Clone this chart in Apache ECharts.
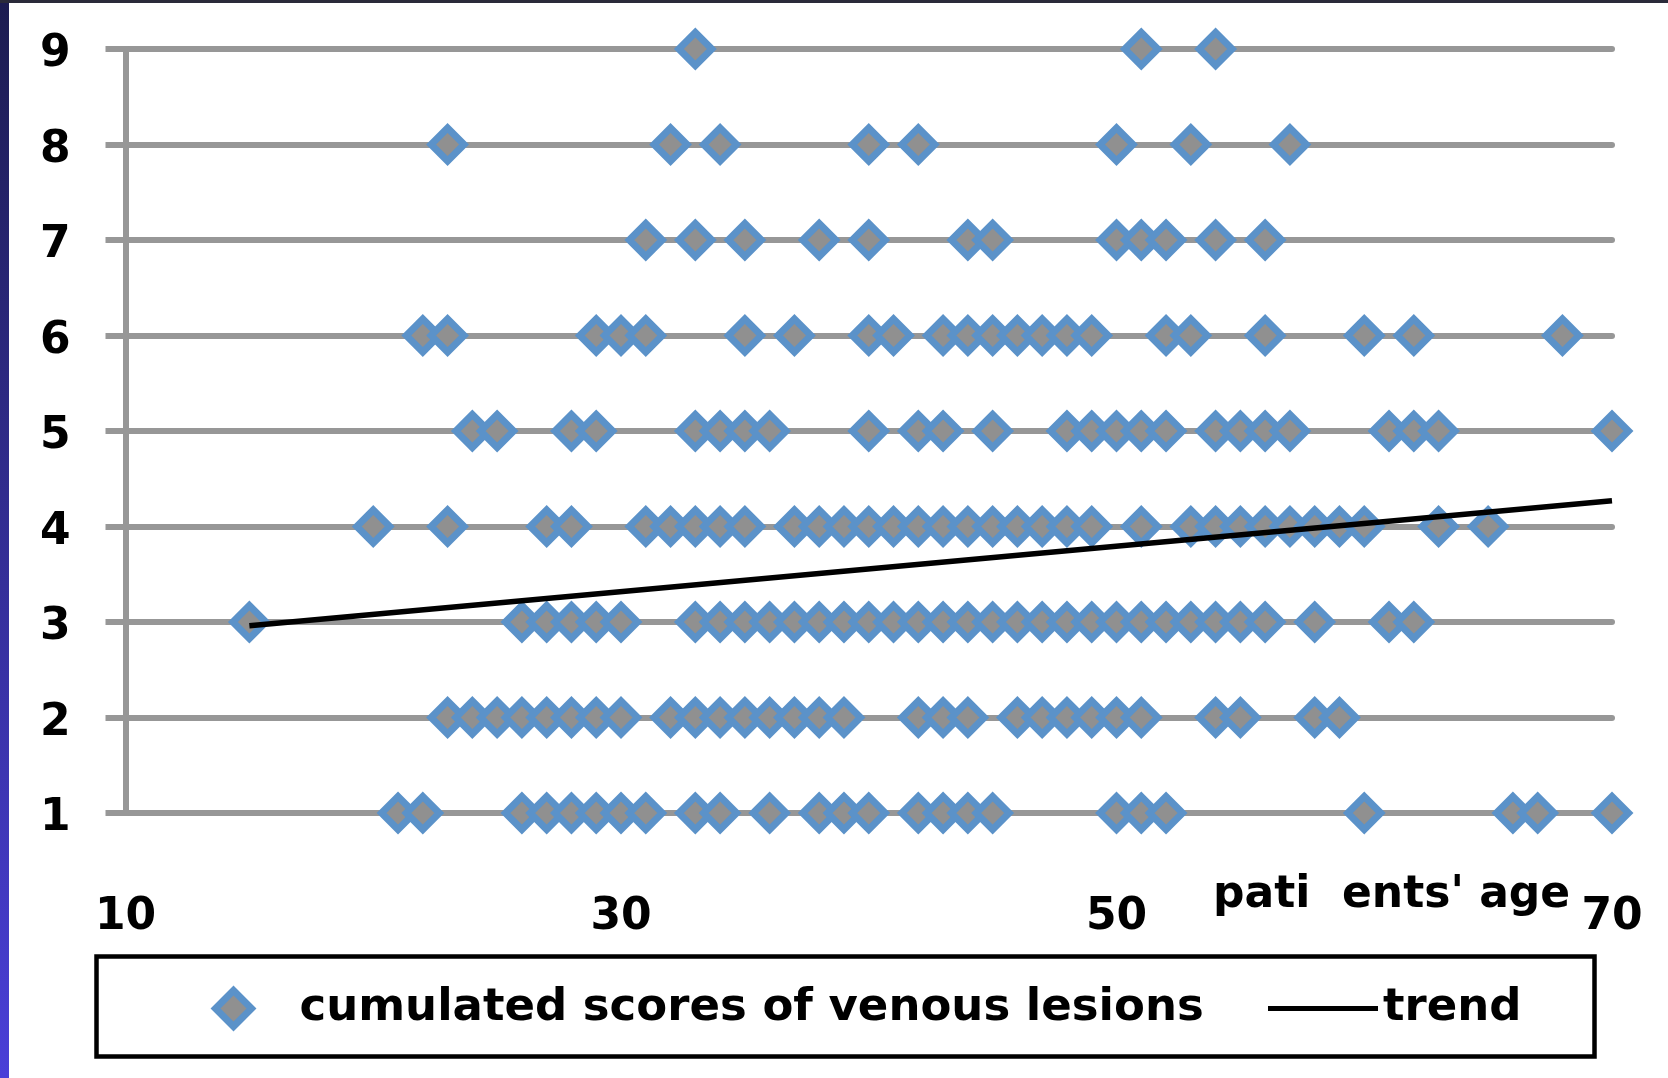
<!DOCTYPE html>
<html>
<head>
<meta charset="utf-8">
<script src="https://cdn.jsdelivr.net/npm/echarts@6/dist/echarts.min.js"></script>
<style>
html,body{margin:0;padding:0;background:#fff;}
#chart{width:1668px;height:1078px;}
</style>
</head>
<body>
<div id="chart"></div>
<script>
// Patients' ages for each cumulated score (1..9)
const ages1 = [21,22,26,27,28,29,30,31,33,34,36,38,39,40,42,43,44,45,50,51,52,60,66,67,70];
const ages2 = [23,24,25,26,27,28,29,30,32,33,34,35,36,37,38,39,42,43,44,46,47,48,49,50,51,54,55,58,59];
const ages3 = [15,26,27,28,29,30,33,34,35,36,37,38,39,40,41,42,43,44,45,46,47,48,49,50,51,52,53,54,55,56,58,61,62];
const ages4 = [20,23,27,28,31,32,33,34,35,37,38,39,40,41,42,43,44,45,46,47,48,49,51,53,54,55,56,57,58,59,60,63,65];
const ages5 = [24,25,28,29,33,34,35,36,40,42,43,45,48,49,50,51,52,54,55,56,57,61,62,63,70];
const ages6 = [22,23,29,30,31,35,37,40,41,43,44,45,46,47,48,49,52,53,56,60,62,68];
const ages7 = [31,33,35,38,40,44,45,50,51,52,54,56];
const ages8 = [23,32,34,40,42,50,53,57];
const ages9 = [33,51,54];
const scoreRows = [ages1, ages2, ages3, ages4, ages5, ages6, ages7, ages8, ages9];

// Trend line end points (age, score)
const trendAges = [15, 70];
const trendScores = [2.96, 4.27];

const xTicks = [10, 30, 50, 70];
const seriesNames = ['cumulated scores of venous lesions', 'trend'];
const axisTitleParts = ['pati', "ents' age"];

const scatterData = [];
scoreRows.forEach((ages, i) => ages.forEach(a => scatterData.push([a, i + 1])));
const trendData = trendAges.map((a, i) => [a, trendScores[i]]);

const FONT = 'DejaVu Sans';
const GRAY = '#979797';

const chart = echarts.init(document.getElementById('chart'), null, {renderer: 'canvas'});
chart.setOption({
  backgroundColor: '#ffffff',
  animation: false,
  grid: {left: 125.5, right: 56, top: 49, bottom: 265, containLabel: false},
  xAxis: {
    type: 'value', min: xTicks[0], max: xTicks[xTicks.length - 1], interval: xTicks[1] - xTicks[0],
    axisLine: {show: false}, axisTick: {show: false}, splitLine: {show: false},
    axisLabel: {margin: 83, fontFamily: FONT, fontWeight: 'bold', fontSize: 44, color: '#000'}
  },
  yAxis: {
    type: 'value', min: 1, max: 9, interval: 1,
    axisLine: {show: true, lineStyle: {color: GRAY, width: 6, cap: 'round'}},
    axisTick: {show: true, length: 20, lineStyle: {color: GRAY, width: 6}},
    splitLine: {show: true, lineStyle: {color: GRAY, width: 6, cap: 'round'}},
    axisLabel: {margin: 55, fontFamily: FONT, fontWeight: 'bold', fontSize: 44, color: '#000',
      verticalAlign: 'top', lineHeight: 12}
  },
  legend: [
    {
      data: [seriesNames[0]], left: 212, top: 986, padding: 0,
      itemWidth: 36, itemHeight: 36,
      itemStyle: {color: '#909090', borderColor: '#5B92C9', borderWidth: 7},
      textStyle: {fontFamily: FONT, fontWeight: 'bold', fontSize: 45, color: '#000', padding: [0, 0, 0, 43]}
    },
    {
      data: [{name: seriesNames[1], icon: 'rect'}], left: 1268, top: 986, padding: 0,
      itemWidth: 110, itemHeight: 5,
      textStyle: {fontFamily: FONT, fontWeight: 'bold', fontSize: 45, color: '#000', padding: [0, 0, 0, 0]}
    }
  ],
  graphic: [
    {type: 'rect', left: 94, top: 954, shape: {width: 1498, height: 100}, style: {fill: 'none', stroke: '#000', lineWidth: 4.5}, silent: true},
    {type: 'text', left: 1213, top: 874, style: {text: axisTitleParts[0], font: 'bold 44px "DejaVu Sans"', fill: '#000'}},
    {type: 'text', left: 1342, top: 874, style: {text: axisTitleParts[1], font: 'bold 44px "DejaVu Sans"', fill: '#000'}},
    {type: 'rect', left: 0, top: 0, shape: {width: 9, height: 1078},
      style: {fill: new echarts.graphic.LinearGradient(0, 0, 0, 1, [{offset: 0, color: '#1c1c50'}, {offset: 1, color: '#4a3fd8'}])}, silent: true},
    {type: 'rect', left: 0, top: 0, shape: {width: 1668, height: 3}, style: {fill: '#2a2a3a'}, silent: true}
  ],
  series: [
    {
      name: seriesNames[0], type: 'scatter', data: scatterData,
      symbol: 'diamond', symbolSize: 33,
      itemStyle: {color: '#909090', borderColor: '#5B92C9', borderWidth: 7, opacity: 1},
      z: 3
    },
    {
      name: seriesNames[1], type: 'line', data: trendData,
      symbol: 'none', lineStyle: {color: '#000', width: 5.5},
      itemStyle: {color: '#000'},
      z: 4
    }
  ]
});
</script>
</body>
</html>
